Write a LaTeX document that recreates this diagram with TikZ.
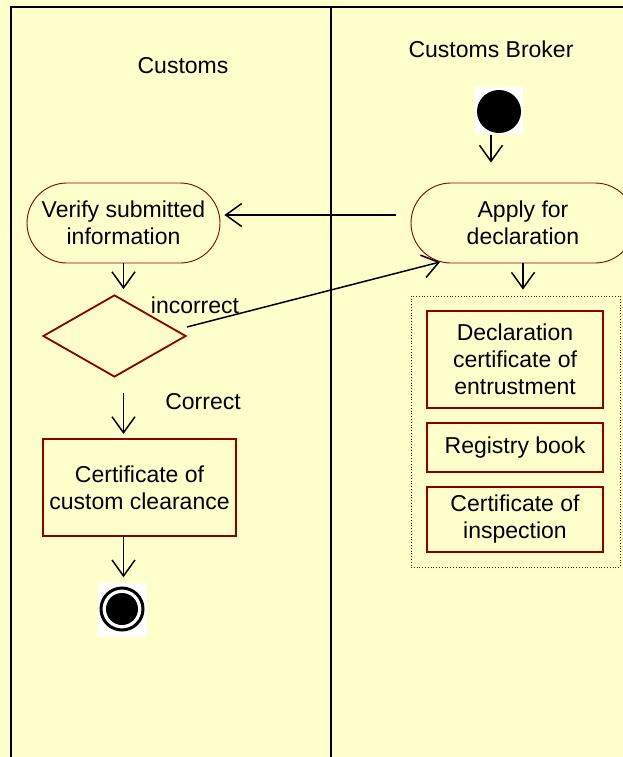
\documentclass[tikz,border=0pt]{standalone}
\usepackage{fontspec}
\setmainfont{Liberation Sans}
\usetikzlibrary{arrows.meta,shapes.misc,shapes.geometric}
\definecolor{paper}{HTML}{FFFFCC}
\definecolor{edge}{HTML}{8B0000}

\begin{document}
\begin{tikzpicture}[x=1pt,y=-1pt,line width=1.5pt,
  font=\fontsize{23}{27}\selectfont,
  flow/.style={-{Straight Barb[length=16pt,width=23pt,line width=1.5pt]}},
  act/.style={rounded rectangle,draw=edge,line width=0.9pt,align=center,inner sep=0pt},
  doc/.style={rectangle,draw=edge,line width=2pt,align=center,inner sep=0pt,
              minimum width=176pt}]
\def\lane{\draw[line width=2pt]}
% ---- page and swimlanes ----
\fill[paper] (0,0) rectangle (623,757);
\useasboundingbox (0,0) rectangle (623,757);
\lane (623,7) -- (11,7) -- (11,757);
\lane (331,7) -- (331,757);
\node (customs) at (183,66) {Customs};
\node (broker) at (491,49) {Customs Broker};
% ---- customs broker ----
\node[fill=white,minimum width=48pt,minimum height=47pt,inner sep=0pt] (init) at (499,110.5) {};
\fill (499,111.5) ellipse (22 and 21.5);
\node[act,minimum width=224pt,minimum height=80pt] (apply) at (523,223) {Apply for\\declaration};
\node[draw=edge,line width=0.8pt,dotted,minimum width=209pt,minimum height=271pt] (docs) at (515.5,431.5) {};
\node[doc,minimum height=97pt] (entrust) at (515,359.5) {Declaration\\certificate of\\entrustment};
\node[doc,minimum height=49pt] (registry) at (515,447.5) {Registry book};
\node[doc,minimum height=65pt] (inspect) at (515,519.5) {Certificate of\\inspection};
% ---- customs ----
\node[act,minimum width=193pt,minimum height=80pt] (verify) at (123.5,223) {Verify submitted\\information};
\node[diamond,draw=edge,line width=1.8pt,minimum width=143pt,minimum height=82pt,inner sep=0pt] (check) at (114.5,336) {};
\node (incorrect) at (195,305) {incorrect};
\node (correct) at (203,402) {Correct};
\node[rectangle,draw=edge,line width=2pt,align=center,inner sep=0pt,
      minimum width=193pt,minimum height=97pt] (clear) at (139.5,487.5) {Certificate of\\custom clearance};
\node[fill=white,minimum width=49pt,minimum height=54pt,inner sep=0pt] (final) at (122.5,610) {};
\draw[line width=3pt] (122,609) circle (21);
\fill (122,609) circle (16);
\coordinate (applyin) at (440,262);
% ---- transitions ----
\draw[flow,shorten >=20pt] (init.south -| broker) -- (broker |- apply.north);
\draw[flow,shorten <=15pt,shorten >=4pt] ([yshift=8pt]apply.west) -- ([yshift=8pt]verify.east);
\draw[flow,shorten >=5pt] (verify.south) -- (verify.south |- check.north);
\draw[flow] ([yshift=9pt]check.east) -- (applyin);
\draw[flow,shorten <=15pt,shorten >=4pt] (verify.south |- check.south) -- (verify.south |- clear.north);
\draw[flow,shorten >=5pt] (verify.south |- clear.south) -- (verify.south |- final.north);
\draw[flow,shorten >=6pt] (apply.south) -- (apply.south |- docs.north);
\end{tikzpicture}
\end{document}
